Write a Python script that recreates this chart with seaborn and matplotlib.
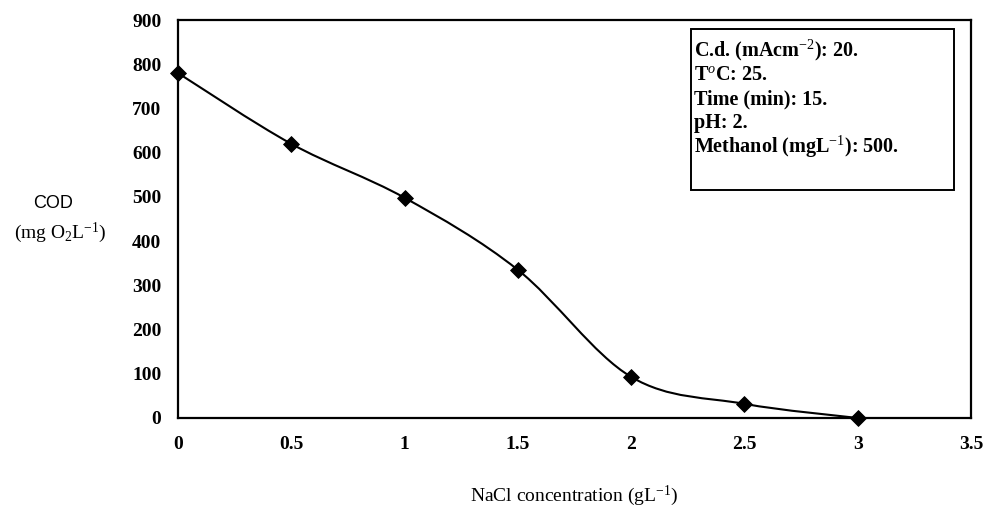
import numpy as np
import pandas as pd
import matplotlib
matplotlib.use("Agg")
import matplotlib.pyplot as plt
from matplotlib.path import Path
from matplotlib.patches import PathPatch, Rectangle
import seaborn as sns

# ---- data ----
nacl = [0, 0.5, 1, 1.5, 2, 2.5, 3]
cod = [780, 620, 498, 335, 93, 32, 0]
x_ticks = [0, 0.5, 1, 1.5, 2, 2.5, 3, 3.5]
x_tick_labels = ["0", "0.5", "1", "1.5", "2", "2.5", "3", "3.5"]
y_ticks = [0, 100, 200, 300, 400, 500, 600, 700, 800, 900]
box_lines = [
    r"C.d. (mAcm$^{-2}$): 20.",
    r"T$^{o}$C: 25.",
    "Time (min): 15.",
    "pH: 2.",
    r"Methanol (mgL$^{-1}$): 500.",
]

sns.set_theme(style="white")
plt.rcParams["font.family"] = ["Liberation Serif", "DejaVu Serif"]
plt.rcParams["mathtext.fontset"] = "custom"
plt.rcParams["mathtext.rm"] = "Liberation Serif"
plt.rcParams["mathtext.it"] = "Liberation Serif:italic"
plt.rcParams["mathtext.bf"] = "Liberation Serif:bold"

df = pd.DataFrame({"nacl": nacl, "cod": cod})

fig = plt.figure(figsize=(9.89, 5.11), dpi=100)
ax = fig.add_axes([178 / 989, 1 - 418 / 511, (971 - 178) / 989, (418 - 20) / 511])

# smoothed line (Catmull-Rom style Bezier through the data points, like Excel's smoothed line)
pts = np.column_stack([nacl, cod]).astype(float)
ext = np.vstack([pts[0], pts, pts[-1]])
verts = [tuple(pts[0])]
codes = [Path.MOVETO]
for i in range(1, len(ext) - 2):
    p0, p1, p2, p3 = ext[i - 1], ext[i], ext[i + 1], ext[i + 2]
    c1 = p1 + (p2 - p0) / 6.0
    c2 = p2 - (p3 - p1) / 6.0
    verts += [tuple(c1), tuple(c2), tuple(p2)]
    codes += [Path.CURVE4] * 3
ax.add_patch(PathPatch(Path(verts, codes), facecolor="none", edgecolor="black",
                       lw=1.5, zorder=2, clip_on=False))

sns.scatterplot(data=df, x="nacl", y="cod", ax=ax, marker="D", s=65,
                color="black", edgecolor="black", zorder=3, clip_on=False)

ax.set_xlim(0, 3.5)
ax.set_ylim(0, 900)
ax.set_xticks(x_ticks)
ax.set_xticklabels(x_tick_labels)
ax.set_yticks(y_ticks)
ax.set_yticklabels([str(v) for v in y_ticks])
for lab in ax.get_xticklabels() + ax.get_yticklabels():
    lab.set_fontweight("bold")
    lab.set_fontsize(14)
    lab.set_color("black")
ax.tick_params(axis="x", direction="out", length=4, width=1, pad=9, colors="black")
ax.tick_params(axis="y", length=0, pad=12, colors="black")
for s in ax.spines.values():
    s.set_visible(True)
    s.set_color("black")
    s.set_linewidth(1.6)

ax.set_xlabel(r"NaCl concentration (gL$^{-1}$)", fontsize=14, labelpad=22, color="black")
ax.set_ylabel("")
fig.text(53 / 989, 1 - 203 / 511, "COD", ha="center", va="center", fontsize=13,
         family=["Liberation Sans", "DejaVu Sans"], color="black")
fig.text(60 / 989, 1 - 233 / 511, r"(mg O$_2$L$^{-1}$)", ha="center", va="center",
         fontsize=14, color="black")

# info box
bx0, bx1, by0, by1 = 691, 954, 29, 190
fig.patches.append(Rectangle((bx0 / 989, 1 - by1 / 511), (bx1 - bx0) / 989, (by1 - by0) / 511,
                             transform=fig.transFigure, facecolor="white",
                             edgecolor="black", lw=1.4, zorder=5))
line_y = [50, 75, 99, 123, 147]
for yy, txt in zip(line_y, box_lines):
    fig.text(694 / 989, 1 - yy / 511, txt, ha="left", va="center", fontsize=14.5,
             fontweight="bold", color="black", zorder=6)

fig.savefig("out.png", dpi=100)
